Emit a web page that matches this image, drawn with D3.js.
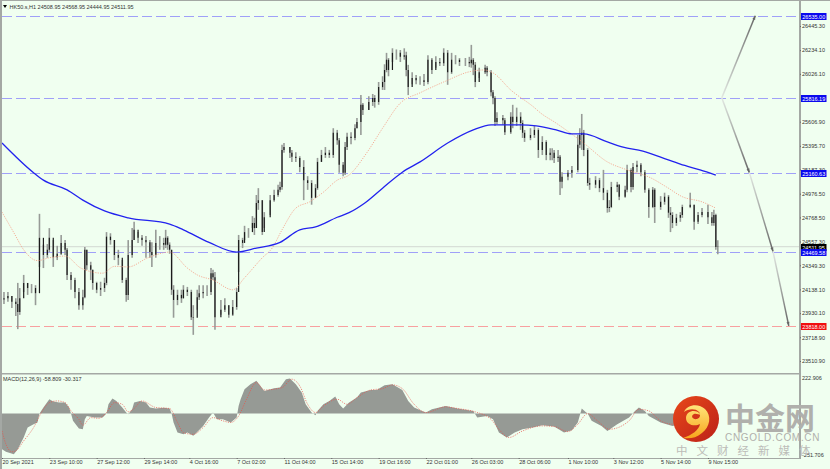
<!DOCTYPE html>
<html><head><meta charset="utf-8">
<script src="https://cdnjs.cloudflare.com/ajax/libs/d3/7.8.5/d3.min.js"></script>
<style>html,body{margin:0;padding:0;background:#f0fff0;overflow:hidden}svg{display:block}
text{font-family:"Liberation Sans",sans-serif}</style></head><body><svg id="c" width="830" height="469"></svg>
<script>
const chartTitle="HK50.s,H1  24508.95 24568.95 24444.95 24511.95";
const macdTitle="MACD(12,26,9) -58.809 -30.317";
const barIndex=[1,3,5,7,8,9,11,13,15,17,19,21,23,24,26,28,30,32,33,35,37,39,41,42,43,45,46,48,50,52,53,55,57,59,61,63,64,66,67,69,71,73,75,76,78,80,82,83,84,85,86,87,89,91,92,94,96,97,99,100,102,104,106,107,108,111,113,115,117,119,120,122,123,125,127,128,129,130,132,133,136,138,140,141,142,143,146,147,149,151,153,155,157,159,160,162,164,166,168,170,171,173,174,175,177,179,180,182,183,186,188,189,191,193,194,195,196,198,200,202,204,205,206,208,210,212,214,216,218,220,222,224,226,228,230,232,235,237,238,239,240,242,245,246,248,249,250,251,254,255,258,259,261,263,264,265,268,270,272,274,276,278,279,280,282,283,284,287,289,292,293,294,295,297,298,301,303,305,307,308,309,312,313,316,317,319,320,322,324,326,328,330,331,334,336,338,339,340,342,344,345,349,351,353,355,358,360,361,362,363];
const closes=[24060,24080,24030,24010,23940,24060,24195,24150,24150,24105,24590,24440,24485,24590,24420,24450,24545,24485,24265,24220,24115,24000,24070,24485,24350,24310,24195,24135,24150,24195,24600,24570,24440,24415,24220,24090,24440,24570,24660,24590,24570,24550,24465,24440,24545,24545,24530,24590,24530,24485,24135,24045,24090,24060,24135,24115,23895,23890,24070,24105,24115,24115,24280,24245,23895,23960,24000,23915,23985,24115,24570,24545,24640,24640,24720,24675,24895,24920,24640,24770,24920,24965,25010,25035,25360,25385,25335,25300,25290,25210,25095,25070,24940,25025,25255,25315,25335,25315,25510,25445,25230,25160,25385,25475,25465,25550,25605,25755,25710,25780,25815,25780,25910,25955,26060,26150,26060,26210,26210,26175,26190,26060,25910,25990,25970,25970,25955,26150,26060,26130,26120,26210,26040,26150,26150,26130,26130,26120,26150,26105,25955,26040,26080,26040,25865,25815,25605,25640,25620,25515,25650,25605,25650,25595,25510,25465,25490,25535,25360,25430,25315,25335,25335,25290,25300,25080,25125,25160,25185,25405,25490,25510,25360,25070,25055,25095,25025,24985,24850,24860,25035,25055,24950,25010,25185,25035,25210,25230,25165,25010,24860,25010,24860,24905,24950,24810,24790,24720,24765,24790,24860,24880,24730,24790,24815,24770,24720,24790,24510,24512];
const highs=[24115,24115,24080,24060,24195,24150,24265,24195,24185,24175,24800,24530,24535,24675,24570,24520,24615,24570,24500,24290,24240,24150,24135,24510,24485,24380,24310,24205,24205,24240,24640,24630,24570,24485,24395,24240,24570,24675,24730,24640,24615,24605,24570,24550,24660,24605,24590,24660,24605,24550,24485,24175,24135,24135,24175,24160,24135,24000,24135,24175,24175,24175,24325,24310,24290,24045,24060,24000,24045,24150,24615,24590,24695,24675,24780,24765,24965,25025,24920,24815,24965,25010,25055,25080,25405,25420,25385,25360,25340,25305,25270,25130,25095,25060,25290,25360,25385,25360,25550,25535,25465,25255,25430,25510,25515,25585,25640,25840,25770,25830,25850,25840,25955,26005,26110,26210,26165,26250,26240,26235,26250,26220,26105,26040,26015,26005,26025,26190,26165,26180,26165,26250,26235,26210,26190,26165,26165,26175,26280,26165,26130,26080,26105,26095,26060,25885,25830,25690,25665,25640,25690,25755,25730,25690,25620,25535,25550,25570,25550,25480,25445,25375,25375,25360,25360,25315,25165,25185,25220,25490,25550,25675,25535,25375,25115,25130,25115,25185,25010,24920,25080,25080,25060,25045,25230,25200,25245,25265,25245,25185,25025,25035,25025,24955,24985,24965,24860,24815,24800,24815,24880,24985,24880,24815,24850,24880,24815,24835,24800,24569];
const lows=[24010,24030,23975,23905,23790,23915,24115,24090,24105,24000,24335,24325,24415,24465,24335,24395,24440,24440,24220,24135,24060,23960,23960,24060,24310,24220,24135,24105,24080,24115,24175,24530,24395,24350,24195,24030,24045,24415,24570,24545,24520,24415,24415,24335,24415,24485,24485,24500,24485,24450,24090,23890,24000,24020,24060,24080,23870,23740,23960,24045,24060,24080,24090,24220,23785,23915,23940,23890,23905,23960,24290,24500,24570,24590,24675,24615,24675,24835,24615,24675,24790,24905,24950,24990,25010,25335,25290,25255,25255,25165,24920,25010,24880,24940,25010,25255,25290,25290,25290,25405,25160,25130,25140,25360,25410,25445,25550,25490,25665,25710,25745,25730,25755,25885,25885,26040,26005,26130,26150,26130,26150,26005,25840,25935,25935,25930,25920,25935,26025,26080,26095,26095,25930,26025,26110,26095,26095,26085,26080,26015,25910,25990,26025,26005,25830,25760,25570,25585,25580,25490,25500,25550,25570,25535,25465,25430,25445,25465,25290,25315,25270,25270,25270,25245,25255,24965,25025,25095,25115,25165,25375,25360,25305,25045,25010,25025,24990,24920,24810,24815,24850,24990,24920,24940,24990,24990,25010,25165,25130,24985,24765,24850,24720,24835,24880,24765,24640,24675,24695,24730,24765,24850,24660,24710,24770,24710,24695,24695,24485,24445];
const priceTicks=[26445.30,26234.10,26026.10,25606.90,25395.70,25187.30,24976.50,24768.50,24557.30,24349.30,24138.10,23930.10,23718.90,23510.90];
const maSlowT=[0,16,21,33,41,52,64,85,92,105,119,129,141,151,159,170,176,184,193,203,212,226,239,248,263,271,281,289,295,307,315,325,335,344,354,362];
const maSlowP=[25420,25160,25095,25010,24920,24825,24765,24710,24660,24550,24465,24500,24550,24660,24685,24770,24810,24895,25025,25165,25255,25420,25535,25580,25580,25570,25535,25500,25500,25430,25385,25350,25290,25235,25185,25140];
const maFastT=[0,6,11,18,24,32,40,51,57,64,74,85,94,99,107,117,123,132,137,142,149,156,163,170,176,185,193,202,212,226,236,244,249,258,270,273,281,295,307,317,329,337,345,355,362];
const maFastP=[24815,24635,24485,24390,24415,24430,24325,24280,24340,24335,24415,24465,24325,24265,24220,24135,24240,24415,24500,24660,24850,24905,24990,25095,25140,25335,25550,25770,25860,25970,26040,26060,26035,25885,25730,25685,25595,25420,25255,25185,25115,25035,24950,24905,24850];
const levelPrices=[26535.00,25816.19,25160.63,24469.58,23818.00];
const levelLabels=["26535.00","25816.19","25160.63","24469.58","23818.00"];
const levelColors=["#a0a0f8","#a0a0f8","#a0a0f8","#a0a0f8","#f8a0a0"];
const levelBoxColors=["#0a0aee","#0a0aee","#0a0aee","#0a0aee","#f01010"];
const lastPrice=24511.95;
const forecastT0=[365,365,379,391];
const forecastT1=[382,379,391,399];
const forecastP0=[25816,25816,25161,24470];
const forecastP1=[26535,25161,24470,23818];
const timeLabels=["20 Sep 2021","23 Sep 10:00","27 Sep 12:00","29 Sep 14:00","4 Oct 16:00","7 Oct 02:00","11 Oct 04:00","15 Oct 14:00","19 Oct 16:00","22 Oct 01:00","26 Oct 03:00","28 Oct 06:00","1 Nov 10:00","3 Nov 12:00","5 Nov 14:00","9 Nov 15:00"];
const timeIndex=[0,24,48,72,95,119,143,167,191,215,238,262,287,310,334,358];
const histT=[0,2,6,8,11,13,16,18,19,21,24,26,29,32,34,35,36,39,41,42,43,47,51,53,54,56,58,61,63,64,66,67,70,73,75,78,82,85,86,87,89,92,94,97,99,102,105,107,109,112,116,119,120,121,123,126,129,133,138,141,144,146,149,152,154,157,159,160,163,166,169,171,173,176,180,182,187,190,194,198,203,206,209,213,215,218,225,231,239,241,246,249,252,256,260,264,269,274,280,285,289,292,294,296,297,299,304,307,312,318,321,323,326,328,334,340,345,355,363];
const histV=[-212,-227,-241,-212,-142,-83,-63,-53,0,36,85,71,65,65,36,0,-43,-89,-93,-34,-14,-24,-24,0,55,89,75,36,6,-4,26,65,75,65,36,30,34,30,0,-53,-113,-123,-113,-132,-109,-73,-24,6,-34,-34,-53,-24,45,85,144,174,194,134,150,154,204,208,174,125,55,6,-10,16,55,75,101,55,30,65,95,125,140,140,168,174,140,75,36,16,6,26,45,30,16,-24,-14,-34,-113,-142,-113,-93,-83,-69,-77,-113,-99,-53,30,10,0,-43,-73,-103,-63,-24,16,36,16,-14,-53,-73,-63,-43,-59];
const signalT=[0,2,5,7,11,16,20,24,28,32,35,39,41,45,49,53,57,61,64,67,71,78,85,89,92,97,102,107,112,116,120,124,129,133,142,147,151,155,159,163,170,175,180,187,193,198,203,209,215,225,231,240,248,252,257,264,274,280,287,292,297,302,308,318,323,328,334,340,345,355,363];
const signalV=[-103,-182,-227,-221,-162,-83,6,65,75,65,16,-34,-69,-24,-28,6,65,55,10,30,75,36,30,-53,-113,-123,-83,-24,-43,-53,-14,85,184,140,154,204,164,55,6,45,85,55,95,140,148,170,148,55,6,40,30,10,-34,-93,-142,-103,-73,-77,-107,-63,0,-43,-93,-43,26,16,-43,-63,-53,-53,-30];
const macdLabels=[222.906,-251.706];

const svg=d3.select("#c");
const x=d3.scaleLinear().domain([0,399]).range([2,788.8]);
const y=d3.scaleLinear().domain([26445.3,23510.9]).range([26,361]);
const ym=d3.scaleLinear().domain([222.906,-251.706]).range([376,456]);
const defs=svg.append("defs");
svg.append("rect").attr("width",830).attr("height",469).attr("fill","#f0fff0");

// levels
svg.append("g").selectAll("line").data(levelPrices).join("line")
 .attr("x1",2).attr("x2",799).attr("y1",d=>Math.round(y(d))+.5).attr("y2",d=>Math.round(y(d))+.5)
 .attr("stroke",(d,i)=>levelColors[i]).attr("stroke-width",1.1).attr("stroke-dasharray","10,4");
svg.append("line").attr("x1",2).attr("x2",799).attr("y1",y(lastPrice)).attr("y2",y(lastPrice)).attr("stroke","#d2d8d2").attr("stroke-width",1);

// candles
const bars=svg.append("g");
bars.selectAll(".w").data(barIndex).join("line").attr("x1",d=>x(d)).attr("x2",d=>x(d))
 .attr("y1",(d,i)=>y(highs[i])).attr("y2",(d,i)=>y(lows[i])).attr("stroke","#979b97").attr("stroke-width",1.6);
bars.selectAll(".b").data(barIndex).join("line").attr("x1",d=>x(d)).attr("x2",d=>x(d))
 .attr("y1",(d,i)=>y(i?closes[i-1]:24050)).attr("y2",(d,i)=>y(closes[i])).attr("stroke","#1c1c1c").attr("stroke-width",1.2);

// moving averages
const lineOf=(T,P,sy)=>d3.line().x((d,i)=>x(T[i])).y(d=>sy(d)).curve(d3.curveMonotoneX)(P);
svg.append("path").attr("d",lineOf(maFastT,maFastP,y)).attr("fill","none").attr("stroke","#f59a82").attr("stroke-width",.8).attr("stroke-dasharray","1.2,1.2");
svg.append("path").attr("d",lineOf(maSlowT,maSlowP,y)).attr("fill","none").attr("stroke","#2222ee").attr("stroke-width",1.3);

// forecast arrows
forecastT0.forEach((t,i)=>{
 const g=defs.append("linearGradient").attr("id","fg"+i).attr("gradientUnits","userSpaceOnUse")
  .attr("x1",x(t)).attr("y1",y(forecastP0[i])).attr("x2",x(forecastT1[i])).attr("y2",y(forecastP1[i]));
 g.append("stop").attr("offset",0).attr("stop-color","#e2e8e2");
 g.append("stop").attr("offset",1).attr("stop-color","#666");
 svg.append("line").attr("x1",x(t)).attr("y1",y(forecastP0[i])).attr("x2",x(forecastT1[i])).attr("y2",y(forecastP1[i]))
  .attr("stroke",`url(#fg${i})`).attr("stroke-width",1.5);
 const a=Math.atan2(y(forecastP1[i])-y(forecastP0[i]),x(forecastT1[i])-x(t))*180/Math.PI;
 svg.append("path").attr("d","M0,0L-4,-1.5L-4,1.5Z").attr("fill","#666")
  .attr("transform",`translate(${x(forecastT1[i])},${y(forecastP1[i])}) rotate(${a})`);
});

// macd
svg.append("path").attr("d",d3.area().x((d,i)=>x(histT[i])).y0(ym(0)).y1(d=>ym(d))(histV)).attr("fill","#969a95");
svg.append("path").attr("d",lineOf(signalT,signalV,ym)).attr("fill","none").attr("stroke","#e8534a").attr("stroke-width",.7).attr("stroke-dasharray","1.2,1.2");

// frame
const frame="#a4a8a4";
[[0,0,2,469],[0,0,830,1],[799,0,2,459],[2,373,799,1.5],[2,458,799,1]].forEach(r=>
 svg.append("rect").attr("x",r[0]).attr("y",r[1]).attr("width",r[2]).attr("height",r[3]).attr("fill",frame));

// axes
const fs=5.5, tickText="#333";
const ax=svg.append("g").attr("transform","translate(800,0)").call(d3.axisRight(y).tickValues(priceTicks).tickSize(1).tickPadding(1).tickFormat(d=>d.toFixed(2)));
ax.select(".domain").remove();
ax.selectAll("text").attr("font-size",fs).attr("fill",tickText).attr("font-family","Liberation Sans");
ax.selectAll("line").attr("stroke","#666");
const tx=d3.scaleOrdinal().domain(timeLabels).range(timeIndex.map(d=>x(d)));
const bx=svg.append("g").attr("transform","translate(0,458)").call(d3.axisBottom(tx).tickValues(timeLabels).tickSize(1).tickPadding(1.5));
bx.select(".domain").remove();
bx.selectAll("text").attr("text-anchor","start").attr("dx",0).attr("font-size",fs).attr("fill",tickText).attr("font-family","Liberation Sans");
bx.selectAll("line").attr("stroke","#666");
svg.append("g").selectAll("text").data(macdLabels).join("text").attr("x",802).attr("y",(d,i)=>ym(d)+(i?1:4))
 .attr("font-size",fs).attr("fill",tickText).text(d=>d.toFixed(3));

// level boxes
const box=(p,label,color)=>{
 const yy=Math.round(y(p));
 svg.append("rect").attr("x",801).attr("y",yy-3).attr("width",25.5).attr("height",7).attr("fill",color);
 svg.append("text").attr("x",802.3).attr("y",yy+2.5).attr("font-size",fs).attr("fill","#fff").text(label);
};
box(lastPrice,lastPrice.toFixed(2),"#000");
levelPrices.forEach((p,i)=>box(p,levelLabels[i],levelBoxColors[i]));

// titles
svg.append("path").attr("d","M3,5L7,5L5,8Z").attr("fill","#000");
svg.append("text").attr("x",9.5).attr("y",8.5).attr("font-size",fs).attr("fill","#333").text(chartTitle);
svg.append("text").attr("x",3).attr("y",381).attr("font-size",fs).attr("fill","#333").text(macdTitle);

// logo
const lg=defs.append("linearGradient").attr("id","lr").attr("x1",0).attr("y1",0).attr("x2",1).attr("y2",1);
lg.append("stop").attr("offset",0).attr("stop-color","#e8481a");lg.append("stop").attr("offset",1).attr("stop-color","#bb2018");
const ly=defs.append("linearGradient").attr("id","ly").attr("x1",0).attr("y1",0).attr("x2",0).attr("y2",1);
ly.append("stop").attr("offset",0).attr("stop-color","#ffe47a");ly.append("stop").attr("offset",1).attr("stop-color","#f7a51c");
const logo=svg.append("g").attr("transform","translate(696,419)");
logo.append("circle").attr("r",23).attr("fill","url(#lr)");
logo.append("path").attr("fill","url(#ly)").attr("d","M-12,-7C-9,-15 3,-16 9,-10C16,-3 14,8 6,14C0,19 -6,20 -13,19C-4,16 3,11 4,5C-1,8 -10,6 -10,-1C-10,-9 1,-10 4,-5C5,-3 1,-6 -2,-5C-6,-3 -3,1 1,0C4,-1 5,-4 3,-7C-1,-11 -8,-10 -12,-7Z");
const wm="#b0b0ac";
const cjk='"Noto Sans CJK SC","Noto Sans",sans-serif';
svg.append("text").attr("x",725).attr("y",429).attr("font-size",30).attr("font-weight",700).attr("fill",wm).attr("style","font-family:"+cjk).text("中金网");
svg.append("text").attr("x",725).attr("y",441).attr("font-size",10).attr("fill",wm).attr("letter-spacing",.7).text("CNGOLD.COM.CN");
svg.append("text").attr("x",676).attr("y",455).attr("font-size",11.5).attr("fill","#bcbcb8").attr("letter-spacing",9).attr("style","font-family:"+cjk).text("中文财经新媒体");
</script></body></html>
